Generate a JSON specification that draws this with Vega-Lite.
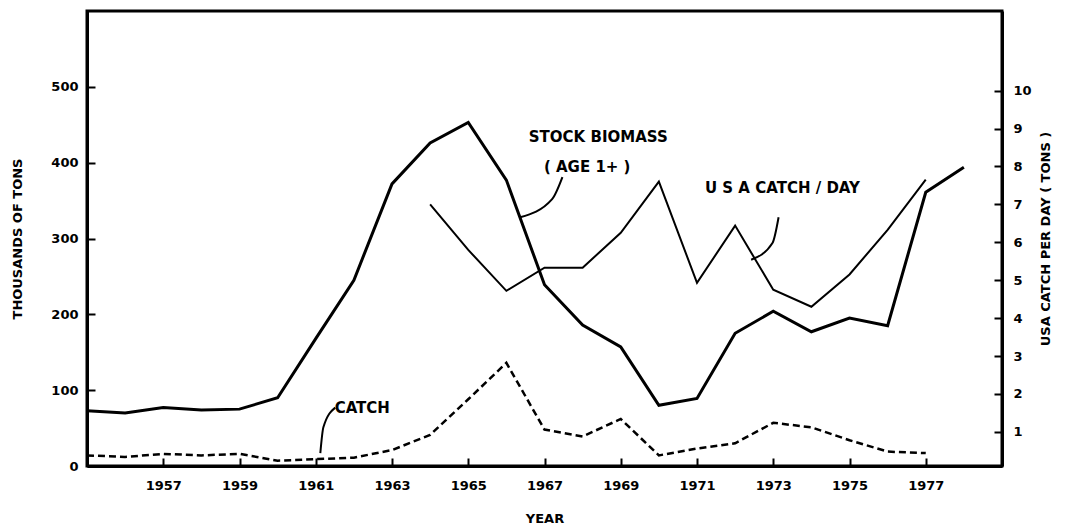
{
  "$schema": "https://vega.github.io/schema/vega-lite/v6.json",
  "autosize": "none",
  "width": 915,
  "height": 455,
  "padding": {"left": 87, "top": 11, "right": 69, "bottom": 61},
  "background": "white",
  "config": {
    "view": {"stroke": "black", "strokeWidth": 3},
    "axis": {
      "labelFont": "DejaVu Sans", "labelFontWeight": "bold", "labelFontSize": 13, "labelColor": "black",
      "titleFont": "DejaVu Sans", "titleFontWeight": "bold", "titleFontSize": 13, "titleColor": "black",
      "domainColor": "black", "domainWidth": 3, "tickColor": "black", "tickWidth": 2, "grid": false
    },
    "text": {"font": "DejaVu Sans", "fontWeight": "bold", "fontSize": 15, "color": "black"}
  },
  "datasets": {
    "biomass": [
      {"year": 1955, "value": 73}, {"year": 1956, "value": 70}, {"year": 1957, "value": 77},
      {"year": 1958, "value": 74}, {"year": 1959, "value": 75}, {"year": 1960, "value": 90},
      {"year": 1961, "value": 168}, {"year": 1962, "value": 245}, {"year": 1963, "value": 372},
      {"year": 1964, "value": 426}, {"year": 1965, "value": 453}, {"year": 1966, "value": 377},
      {"year": 1967, "value": 239}, {"year": 1968, "value": 186}, {"year": 1969, "value": 157},
      {"year": 1970, "value": 80}, {"year": 1971, "value": 89}, {"year": 1972, "value": 175},
      {"year": 1973, "value": 204}, {"year": 1974, "value": 177}, {"year": 1975, "value": 195},
      {"year": 1976, "value": 185}, {"year": 1977, "value": 361}, {"year": 1978, "value": 394}
    ],
    "catch": [
      {"year": 1955, "value": 14}, {"year": 1956, "value": 12}, {"year": 1957, "value": 16},
      {"year": 1958, "value": 14}, {"year": 1959, "value": 16}, {"year": 1960, "value": 7},
      {"year": 1961, "value": 9}, {"year": 1962, "value": 11}, {"year": 1963, "value": 21},
      {"year": 1964, "value": 41}, {"year": 1965, "value": 88}, {"year": 1966, "value": 136},
      {"year": 1967, "value": 48}, {"year": 1968, "value": 39}, {"year": 1969, "value": 62},
      {"year": 1970, "value": 14}, {"year": 1971, "value": 23}, {"year": 1972, "value": 30},
      {"year": 1973, "value": 57}, {"year": 1974, "value": 51}, {"year": 1975, "value": 34},
      {"year": 1976, "value": 19}, {"year": 1977, "value": 17}
    ],
    "cpue": [
      {"year": 1964, "value": 7.0}, {"year": 1965, "value": 5.8}, {"year": 1966, "value": 4.72},
      {"year": 1967, "value": 5.33}, {"year": 1968, "value": 5.33}, {"year": 1969, "value": 6.25},
      {"year": 1970, "value": 7.6}, {"year": 1971, "value": 4.93}, {"year": 1972, "value": 6.44},
      {"year": 1973, "value": 4.75}, {"year": 1974, "value": 4.3}, {"year": 1975, "value": 5.15},
      {"year": 1976, "value": 6.33}, {"year": 1977, "value": 7.65}
    ],
    "labels": [
      {"year": 1968.41, "value": 434, "text": "STOCK BIOMASS"},
      {"year": 1968.12, "value": 394, "text": "( AGE 1+ )"},
      {"year": 1973.24, "value": 367, "text": "U S A  CATCH / DAY"},
      {"year": 1962.22, "value": 77, "text": "CATCH"}
    ],
    "leaders": [
      {"id": "b", "year": 1966.36, "value": 328},
      {"id": "b", "year": 1967.2, "value": 352},
      {"id": "b", "year": 1967.47, "value": 381},
      {"id": "u", "year": 1972.42, "value": 272},
      {"id": "u", "year": 1972.98, "value": 294},
      {"id": "u", "year": 1973.14, "value": 328},
      {"id": "c", "year": 1961.12, "value": 17},
      {"id": "c", "year": 1961.2, "value": 51},
      {"id": "c", "year": 1961.51, "value": 77}
    ]
  },
  "layer": [
    {
      "data": {"name": "biomass"},
      "mark": {"type": "line", "color": "black", "strokeWidth": 3},
      "encoding": {
        "x": {"field": "year", "type": "quantitative", "scale": {"domain": [1955, 1979], "nice": false, "zero": false},
          "axis": {"title": "YEAR", "values": [1957, 1959, 1961, 1963, 1965, 1967, 1969, 1971, 1973, 1975, 1977], "format": "d", "tickSize": -8, "labelPadding": 21, "titlePadding": 20}},
        "y": {"field": "value", "type": "quantitative", "scale": {"domain": [0, 600], "nice": false},
          "axis": {"title": "THOUSANDS OF TONS", "values": [0, 100, 200, 300, 400, 500], "tickSize": -8, "labelPadding": 17, "titlePadding": 26}}
      }
    },
    {
      "data": {"name": "catch"},
      "mark": {"type": "line", "color": "black", "strokeWidth": 2.5, "strokeDash": [7, 4]},
      "encoding": {
        "x": {"field": "year", "type": "quantitative", "scale": {"domain": [1955, 1979], "nice": false, "zero": false}},
        "y": {"field": "value", "type": "quantitative", "scale": {"domain": [0, 600], "nice": false}, "axis": null}
      }
    },
    {
      "data": {"name": "leaders"},
      "mark": {"type": "line", "color": "black", "strokeWidth": 2, "interpolate": "monotone"},
      "encoding": {
        "x": {"field": "year", "type": "quantitative", "scale": {"domain": [1955, 1979], "nice": false, "zero": false}},
        "y": {"field": "value", "type": "quantitative", "scale": {"domain": [0, 600], "nice": false}, "axis": null},
        "detail": {"field": "id"}
      }
    },
    {
      "data": {"name": "labels"},
      "mark": {"type": "text", "align": "center", "baseline": "middle"},
      "encoding": {
        "x": {"field": "year", "type": "quantitative", "scale": {"domain": [1955, 1979], "nice": false, "zero": false}},
        "y": {"field": "value", "type": "quantitative", "scale": {"domain": [0, 600], "nice": false}, "axis": null},
        "text": {"field": "text"}
      }
    },
    {
      "data": {"name": "cpue"},
      "mark": {"type": "line", "color": "black", "strokeWidth": 2},
      "encoding": {
        "x": {"field": "year", "type": "quantitative", "scale": {"domain": [1955, 1979], "nice": false, "zero": false}},
        "y": {"field": "value", "type": "quantitative", "scale": {"domain": [0.1, 12.1], "nice": false, "zero": false},
          "axis": {"orient": "right", "title": "USA CATCH PER DAY ( TONS )", "titleAngle": 270, "values": [1, 2, 3, 4, 5, 6, 7, 8, 9, 10], "tickSize": -8, "labelPadding": 19, "titlePadding": 21}}
      }
    }
  ],
  "resolve": {"scale": {"y": "independent"}}
}
